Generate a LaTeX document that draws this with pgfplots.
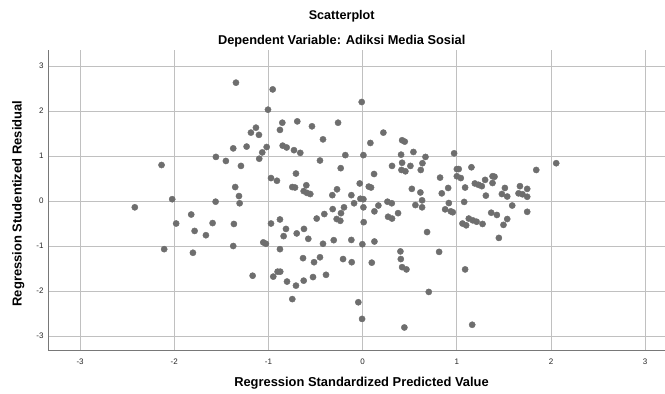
\documentclass[border=0pt]{standalone}
\usepackage{pgfplots}
\pgfplotsset{compat=1.18}
\usepackage{fontspec}
\setmainfont{Liberation Sans}
\definecolor{pt}{RGB}{110,110,110}
\definecolor{gridc}{RGB}{192,192,192}
\definecolor{axc}{RGB}{120,120,120}
\begin{document}
\begin{tikzpicture}
\useasboundingbox (-49pt,-43pt) rectangle (616pt,351pt);
\begin{axis}[
  at={(0,0)}, anchor=south west,
  scale only axis, width=616pt, height=301pt,
  xmin=-3.33, xmax=3.21, ymin=-3.333, ymax=3.356,
  axis lines*=left,
  axis line style={axc, line width=1pt, -},
  grid=major,
  major grid style={gridc, line width=1pt},
  xtick={-3,-2,-1,0,1,2,3},
  ytick={-3,-2,-1,0,1,2,3},
  xticklabels={-3,-2,-1,0,1,2,3},
  yticklabels={-3,-2,-1,0,1,2,3},
  tick label style={font=\fontsize{8}{9}\selectfont, text=black!85},
  tick style={draw=none},
  xticklabel style={yshift=-4pt},
  yticklabel style={xshift=-2pt},
  clip=false,
]
\addplot[only marks, mark=*, mark size=3.1pt, mark options={fill=pt, draw=pt}] table {
x y
-2.135 0.80
-1.558 0.98
-1.452 0.89
-1.345 2.63
-0.955 2.48
-1.005 2.03
-0.010 2.20
-1.133 1.63
-1.186 1.52
-1.101 1.47
-0.853 1.74
-0.878 1.58
-0.694 1.77
-0.538 1.66
-0.261 1.74
-0.421 1.37
0.220 1.52
0.082 1.29
0.419 1.35
0.447 1.32
-1.374 1.17
-1.232 1.21
-1.019 1.20
-1.066 1.08
-1.098 0.94
-1.292 0.78
-0.849 1.23
-0.807 1.19
-0.729 1.13
-0.662 1.07
-0.453 0.90
-0.184 1.02
0.008 1.02
-0.233 0.73
0.121 0.60
0.408 1.03
0.539 1.09
0.667 0.98
0.312 0.78
0.419 0.85
0.412 0.69
0.454 0.66
0.507 0.78
0.635 0.84
0.617 0.69
-1.353 0.31
-1.313 0.11
-0.973 0.51
-0.910 0.45
-0.708 0.61
-0.747 0.31
-0.718 0.30
-0.598 0.35
-0.626 0.22
-0.591 0.18
-0.556 0.155
-0.272 0.26
-0.322 0.13
-0.120 0.13
-0.031 0.39
0.065 0.32
0.089 0.30
0.522 0.27
0.613 0.19
-1.306 -0.05
-0.024 0.05
0.008 0.04
-0.091 -0.05
-0.198 -0.14
0.008 -0.14
0.167 -0.10
0.263 -0.015
0.309 -0.05
0.125 -0.23
0.270 -0.35
0.312 -0.39
0.376 -0.27
0.560 -0.09
0.631 0.015
0.631 -0.14
-0.318 -0.18
-0.230 -0.27
-0.276 -0.40
-0.237 -0.44
-0.407 -0.29
-0.488 -0.39
-1.367 -0.51
-1.374 -1.00
-0.973 -0.50
-0.878 -0.41
-0.814 -0.62
-0.839 -0.78
-0.700 -0.72
-0.623 -0.62
-0.577 -0.84
-0.421 -0.95
-0.307 -0.87
-0.120 -0.865
-0.003 -0.96
0.125 -0.90
0.011 -0.47
-1.055 -0.92
-1.027 -0.95
-0.878 -1.07
-0.633 -1.27
-0.453 -1.25
-0.516 -1.36
-0.208 -1.29
-0.116 -1.36
0.097 -1.37
0.401 -1.12
0.405 -1.29
0.419 -1.47
0.465 -1.52
0.684 -0.69
-1.168 -1.66
-0.949 -1.68
-0.903 -1.57
-0.875 -1.57
-0.803 -1.79
-0.708 -1.88
-0.626 -1.77
-0.527 -1.69
-0.389 -1.64
-0.747 -2.18
-0.046 -2.25
-0.006 -2.62
0.443 -2.81
0.702 -2.02
-2.419 -0.14
-2.022 0.04
-1.561 -0.015
-1.820 -0.30
-1.980 -0.50
-1.784 -0.665
-1.664 -0.76
-1.593 -0.49
-2.107 -1.07
-1.802 -1.15
0.971 1.06
1.000 0.71
1.020 0.71
1.155 0.75
0.822 0.52
1.000 0.55
1.042 0.51
0.908 0.29
0.840 0.17
1.088 0.30
1.191 0.39
1.230 0.36
1.265 0.33
1.300 0.47
1.379 0.55
1.400 0.54
1.379 0.40
1.308 0.12
1.510 0.29
1.478 0.155
1.535 0.10
1.670 0.33
1.655 0.17
1.697 0.15
1.747 0.27
1.747 0.095
1.843 0.69
2.055 0.84
0.915 -0.045
1.078 -0.02
0.876 -0.185
0.936 -0.23
0.957 -0.25
1.588 -0.10
1.747 -0.24
1.365 -0.26
1.425 -0.31
1.127 -0.39
1.170 -0.43
1.210 -0.46
1.273 -0.51
1.060 -0.50
1.099 -0.54
1.535 -0.40
1.495 -0.53
1.446 -0.82
0.812 -1.13
1.088 -1.52
1.163 -2.75
};
\end{axis}
\node[font=\bfseries\fontsize{12.6}{14}\selectfont] at (292.7pt,334.3pt) {Scatterplot};
\node[font=\bfseries\fontsize{12.8}{14}\selectfont] at (292.7pt,310pt) {Dependent Variable: Adiksi Media Sosial};
\node[font=\bfseries\fontsize{12.9}{14}\selectfont] at (312.5pt,-32.3pt) {Regression Standardized Predicted Value};
\node[font=\bfseries\fontsize{13}{14}\selectfont, rotate=90] at (-30.7pt,147.5pt) {Regression Studentized Residual};
\end{tikzpicture}
\end{document}
